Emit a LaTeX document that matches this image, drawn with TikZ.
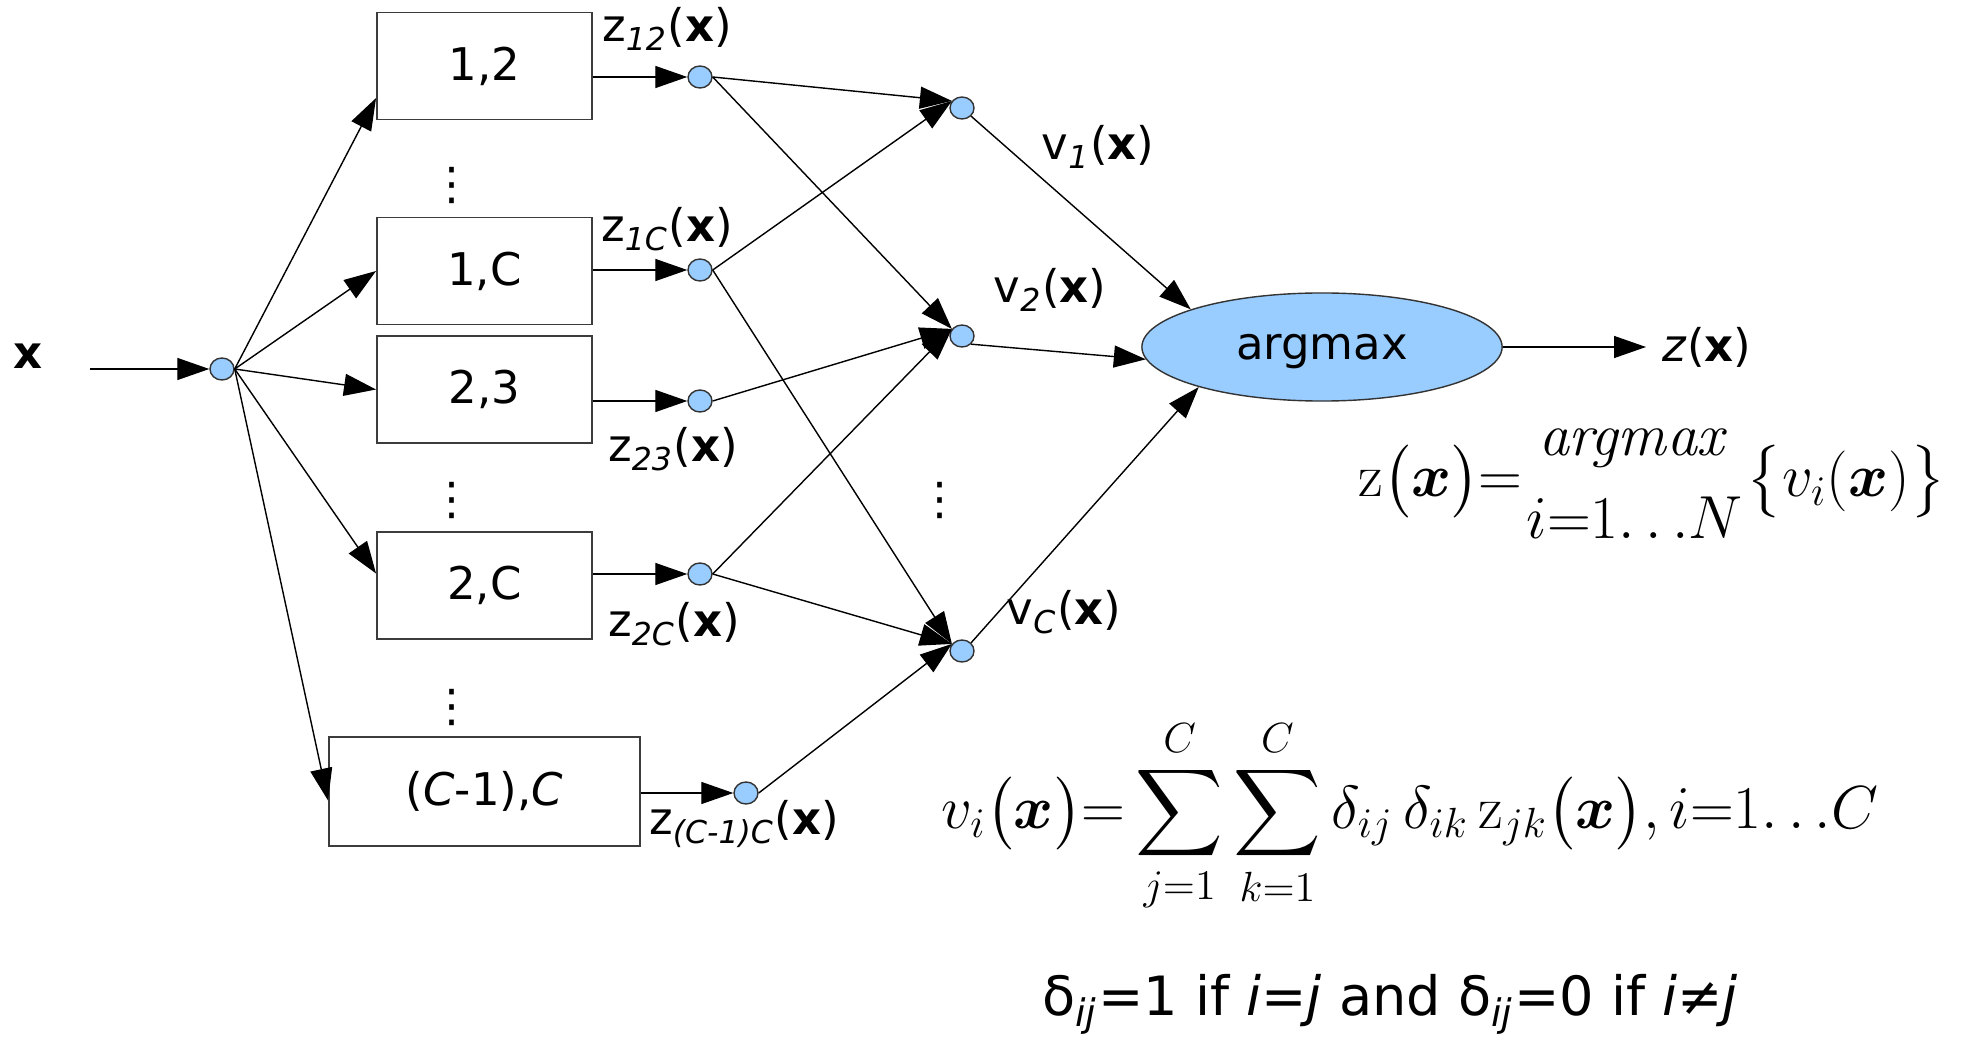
\documentclass[tikz,border=0pt]{standalone}
\usepackage{amsmath}
\usepackage[no-math]{fontspec}
\setmainfont{DejaVu Sans}
\usetikzlibrary{arrows.meta, positioning, shapes.geometric, calc}
\definecolor{unitBlue}{RGB}{153,204,255}
\definecolor{boxLine}{RGB}{60,60,60}
\newcommand{\sigName}[2]{#1\textsubscript{\textit{#2}}(\textbf{x})}
\tikzset{
  pairBox/.style={
    draw=boxLine,
    line width=0.5pt,
    minimum width=2.15cm,
    minimum height=1.07cm,
    inner sep=0pt,
    font=\fontsize{12.8}{15}\selectfont
  },
  unitNode/.style={ellipse, draw=black!80, line width=0.4pt, fill=unitBlue,
    minimum width=0.24cm, minimum height=0.22cm, inner sep=0pt},
  voteNode/.style={unitNode, minimum width=3.6cm, minimum height=1.08cm,
    text depth=0pt, font=\fontsize{12.8}{15}\selectfont},
  sigLabel/.style={inner sep=0pt, font=\fontsize{12.8}{15}\selectfont},
  dotsLabel/.style={inner sep=0pt, font=\fontsize{12.8}{15}\selectfont},
  formulaText/.style={inner sep=0pt, font=\fontsize{17}{20}\selectfont},
  sigFlow/.style={-{Triangle[length=0.32cm,width=0.22cm]}, line width=0.4pt}
}

\begin{document}
\begin{tikzpicture}[x=0.01cm, y=-0.01cm]
  \useasboundingbox (0,0) rectangle (1970,1043);

  % input and splitting unit
  \node[sigLabel] (xin) at (28,356) {\textbf{x}};
  \coordinate (xstart) at (90,369);
  \node[unitNode] (hub) at (222,369) {};

  % pairwise classifiers
  \node[pairBox] (b12) at (484.5,66) {1,2};
  \node[pairBox] (b1C) at (484.5,271) {1,C};
  \node[pairBox] (b23) at (484.5,389.5) {2,3};
  \node[pairBox] (b2C) at (484.5,585.5) {2,C};
  \node[pairBox, minimum width=3.11cm, minimum height=1.09cm] (bC1C) at (484.5,791.5) {(\textit{C}-1),\textit{C}};
  \node[dotsLabel] (dotsA) at (452,186) {⋮};
  \node[dotsLabel] (dotsB) at (452,500) {⋮};
  \node[dotsLabel] (dotsC) at (452,707) {⋮};

  % classifier outputs
  \node[unitNode] (z12) at (700,77) {};
  \node[unitNode] (z1C) at (700,270) {};
  \node[unitNode] (z23) at (700,401) {};
  \node[unitNode] (z2C) at (700,574) {};
  \node[unitNode] (zC1C) at (746,793) {};
  \node[sigLabel] (l12) at (667,29) {\sigName{z}{12}};
  \node[sigLabel] (l1C) at (667,229) {\sigName{z}{1C}};
  \node[sigLabel] (l23) at (673,449) {\sigName{z}{23}};
  \node[sigLabel] (l2C) at (674,624) {\sigName{z}{2C}};
  \node[sigLabel] (lC1C) at (744,824) {\sigName{z}{(C-1)C}};

  % voting units
  \node[unitNode] (v1) at (962,108) {};
  \node[unitNode] (v2) at (962,336) {};
  \node[unitNode] (vC) at (962,651) {};
  \node[dotsLabel] (dotsD) at (940,500) {⋮};
  \node[sigLabel] (lv1) at (1098,147) {\sigName{v}{1}};
  \node[sigLabel] (lv2) at (1050,290) {\sigName{v}{2}};
  \node[sigLabel] (lvC) at (1064,612) {\sigName{v}{C}};

  \node[voteNode] (vote) at (1322,347) {argmax};
  \coordinate (zend) at (1646,347);
  \node[sigLabel] (zlab) at (1707,347) {\textit{z}(\textbf{x})};

  % formulas
  \node[formulaText] (fArg) at (1652,484) {$\mathrm{z}\bigl(\boldsymbol{x}\bigr){=}\genfrac{}{}{0pt}{0}{\mathit{argmax}}{i{=}1{\ldotp\ldotp\ldotp}N}\bigl\{v_i(\boldsymbol{x})\bigr\}$};
  \node[formulaText] (fSum) at (1410,816) {$\displaystyle v_i\bigl(\boldsymbol{x}\bigr){=}\sum_{j=1}^{C}\sum_{k=1}^{C}\delta_{ij}\,\delta_{ik}\,\mathrm{z}_{jk}\bigl(\boldsymbol{x}\bigr),i{=}1{\ldotp\ldotp\ldotp}C$};
  \node[inner sep=0pt, anchor=base, font=\fontsize{15.4}{18}\selectfont] (fDelta) at (1390,1015) {δ\textsubscript{\textit{ij}}=1 if \textit{i}=\textit{j} and δ\textsubscript{\textit{ij}}=0 if \textit{i}≠\textit{j}};

  % connections
  \draw[sigFlow] (xstart) -- (hub);
  \draw[sigFlow] (hub.east) -- ([yshift=-0.32cm]b12.west);
  \draw[sigFlow] (hub.east) -- (b1C.west);
  \draw[sigFlow] (hub.east) -- (b23.west);
  \draw[sigFlow] (hub.east) -- ([yshift=0.12cm]b2C.west);
  \draw[sigFlow] (hub.east) -- ([yshift=-0.09cm]bC1C.west);
  \foreach \k in {12,1C,23,2C,C1C}
    \draw[sigFlow] (b\k.east |- z\k) -- (z\k);

  \draw[sigFlow] (z12.east) -- (v1.145);
  \draw[sigFlow] (z12.east) -- (v2.145);
  \draw[sigFlow] (z1C.east) -- (v1.145);
  \draw[sigFlow] (z1C.east) -- (vC.145);
  \draw[sigFlow] (z23.east) -- (v2.145);
  \draw[sigFlow] (z2C.east) -- (v2.145);
  \draw[sigFlow] (z2C.east) -- (vC.145);
  \draw[sigFlow] (zC1C.east) -- (vC.145);

  \draw[sigFlow] (v1.-42) -- (vote.164);
  \draw[sigFlow] (v2.-42) -- (vote.184);
  \draw[sigFlow] (vC.42) -- (vote.198);
  \draw[sigFlow] (vote.east) -- (zend);
\end{tikzpicture}
\end{document}
